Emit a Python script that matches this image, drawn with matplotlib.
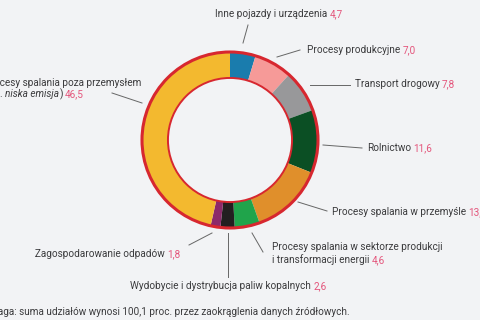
import matplotlib
matplotlib.use("Agg")
import matplotlib.pyplot as plt
from matplotlib.patches import Circle

# udziały (proc.), zgodnie z ruchem wskazówek zegara od godz. 12
labels = [
    "Inne pojazdy i urządzenia",
    "Procesy produkcyjne",
    "Transport drogowy",
    "Rolnictwo",
    "Procesy spalania w przemyśle",
    "Procesy spalania w sektorze produkcji\ni transformacji energii",
    "Wydobycie i dystrybucja paliw kopalnych",
    "Zagospodarowanie odpadów",
    "Procesy spalania poza przemysłem",
]
values = [4.7, 7.0, 7.8, 11.6, 13.5, 4.6, 2.6, 1.8, 46.5]
colors = ["#1a7cad", "#f69a98", "#98989a", "#0b4f24", "#e08f2b",
          "#20a44b", "#231f20", "#8c2a6a", "#f3b92f"]
note = "Uwaga: suma udziałów wynosi 100,1 proc. przez zaokrąglenia danych źródłowych."

BG = "#f2f3f5"
RED = "#d7272f"
TXT = "#3b3b3d"
VAL = "#e4567c"
FONT = "Roboto"
FS = 7.2
GAP = 2.2  # odstęp między nazwą a wartością, px

W, H = 480, 320
fig = plt.figure(figsize=(W / 100, H / 100), dpi=100, facecolor=BG)

# pierścień: środek (230,140) px, promień 88 px
cx, cy, r = 230, 140, 88
ax = fig.add_axes([(cx - r) / W, 1 - (cy + r) / H, 2 * r / W, 2 * r / H])
ax.pie(values, colors=colors, startangle=90, counterclock=False,
       wedgeprops=dict(width=0.295, linewidth=0))
ax.add_patch(Circle((0, 0), 1.0, fill=False, ec=RED, lw=2.2, clip_on=False))
ax.add_patch(Circle((0, 0), 0.705, fill=False, ec=RED, lw=1.4, clip_on=False))
ax.set_xlim(-1, 1)
ax.set_ylim(-1, 1)
ax.set_aspect("equal")
ax.axis("off")

# warstwa na etykiety, współrzędne w pikselach
ov = fig.add_axes([0, 0, 1, 1], facecolor="none")
ov.set_xlim(0, W)
ov.set_ylim(H, 0)
ov.axis("off")
renderer = fig.canvas.get_renderer()


def pieces(x, y, parts):
    # parts: (tekst, kolor, styl, odstęp po) rysowane jeden za drugim
    for s, c, st, gap in parts:
        t = ov.text(x, y, s, color=c, style=st, fontsize=FS, family=FONT,
                    ha="left", va="center", clip_on=False)
        bb = t.get_window_extent(renderer)
        x += bb.width + gap


def fmt(v):
    return f"{v:.1f}".replace(".", ",")


def label(x, y, name, val):
    pieces(x, y, [(name, TXT, "normal", GAP), (fmt(val), VAL, "normal", 0)])


def line(x0, y0, x1, y1):
    ov.plot([x0, x1], [y0, y1], color="#666666", lw=0.7, clip_on=False)


label(215, 14, labels[0], values[0])
line(248, 25, 243, 43)
label(307, 50, labels[1], values[1])
line(300, 50, 277, 57)
label(355, 84, labels[2], values[2])
line(310, 85, 350, 85)
label(367, 148, labels[3], values[3])
line(323, 145, 362, 148)
label(332, 212, labels[4], values[4])
line(298, 202, 327, 211)
l1, l2 = labels[5].split("\n")
pieces(272, 247, [(l1, TXT, "normal", 0)])
label(272, 260, l2, values[5])
line(252, 233, 263, 252)
label(130, 286, labels[6], values[6])
line(228, 233, 228, 277)
label(35, 254, labels[7], values[7])
line(212, 233, 189, 245)
pieces(-16, 83, [(labels[8], TXT, "normal", 0)])
pieces(-19, 94, [("(tzw.", TXT, "normal", GAP), ("niska emisja", TXT, "italic", 0.5),
                 (")", TXT, "normal", GAP), (fmt(values[8]), VAL, "normal", 0)])
line(112, 93, 142, 103)

pieces(-16, 312, [(note, TXT, "normal", 0)])

fig.savefig("out.png", dpi=100, facecolor=BG)
